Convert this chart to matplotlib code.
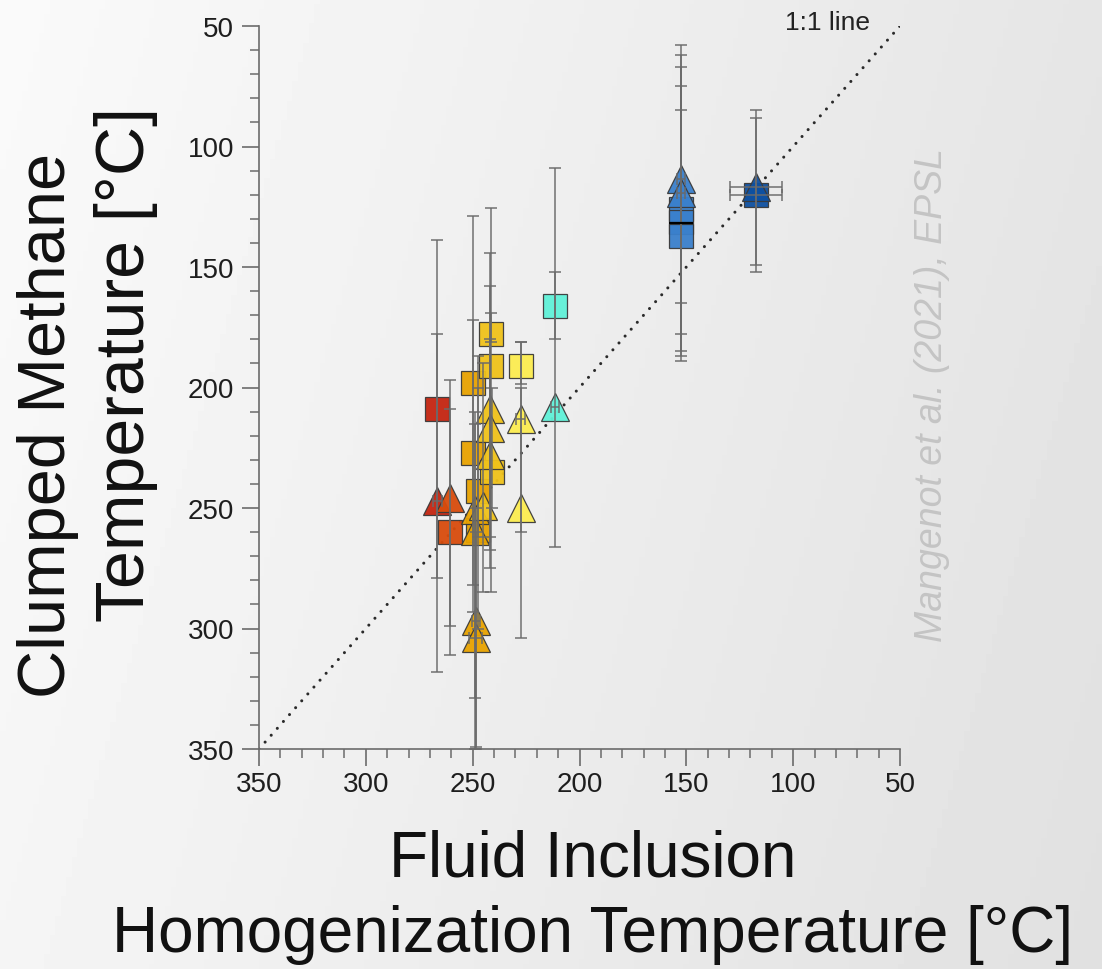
import numpy as np
import matplotlib
matplotlib.use('Agg')
import matplotlib.pyplot as plt
from matplotlib.ticker import MultipleLocator

plt.rcParams['font.family'] = ['Liberation Sans', 'DejaVu Sans']

# =============================================================================
# Data
# =============================================================================
c_red = '#c42410'
c_ored = '#d84c0c'
c_orange = '#e8a200'
c_gold = '#f0c21a'
c_lyel = '#fcec50'
c_cyan = '#60f2d8'
c_blue = '#3a80cc'
c_dblue = '#0e50a0'

# fluid inclusion Th, clumped T, lower / upper error bound, marker, colour, x err
fi_T = [266.5, 266.5, 260.5, 260.5, 250, 250, 247.5, 247.5, 249, 249, 248.5, 248.5,
        241.5, 241.5, 242, 242, 242, 241, 245, 227.5, 227.5, 227.5, 211.5, 211.5,
        152.5, 152.5, 152.5, 152.5, 152.5, 117.4, 117.4]
cm_T = [209, 247, 246, 260, 198, 227, 243, 259, 251, 259.5, 297, 304,
        178, 191, 209, 217, 228, 235, 249, 191, 213, 250, 166, 208,
        113.5, 119.5, 126, 131.5, 137, 117, 120]
cm_lo = [178, 139, 197, 209, 129, 172, 187, 200, 210, 215, 250, 260,
         169, 125.5, 144, 158, 180, 200, 190, 181, 181, 200, 152, 109,
         58, 62, 67, 75, 85, 85, 88]
cm_hi = [279, 318, 311, 299, 282, 293, 262, 300, 329, 350, 349, 350,
         181, 285, 262, 267.5, 275, 250, 285, 198.5, 260, 304, 180, 266,
         189, 187, 178, 185, 165, 149, 152]
mk = ['s', '^', '^', 's', 's', 's', 's', 's', '^', '^', '^', '^',
      's', 's', '^', '^', '^', 's', '^', 's', '^', '^', 's', '^',
      '^', '^', 's', 's', 's', '^', 's']
cols = [c_red, c_red, c_ored, c_ored, c_orange, c_orange, c_orange, c_orange,
        c_orange, c_orange, c_orange, c_orange, c_gold, c_gold, c_gold, c_gold,
        c_gold, c_gold, c_gold, c_lyel, c_lyel, c_lyel, c_cyan, c_cyan,
        c_blue, c_blue, c_blue, c_blue, c_blue, c_dblue, c_dblue]
fi_err = [0, 2, 0, 0, 0, 0, 0, 0, 0, 0, 2, 3,
          0, 0, 0, 0, 0, 0, 0, 0, 2, 0, 0, 2,
          2, 2, 0, 0, 0, 12, 12]

# =============================================================================
# Plot
# =============================================================================
fig = plt.figure(figsize=(11.02, 9.70), dpi=100)

# grey gradient background
bg = fig.add_axes([0, 0, 1, 1], zorder=-10)
gx, gy = np.meshgrid(np.linspace(0, 1, 200), np.linspace(0, 1, 200))
grad = 0.98 - 0.08*gx - 0.02*gy
bg.imshow(grad, cmap='gray', vmin=0, vmax=1, aspect='auto', extent=[0, 1, 0, 1])
bg.axis('off')

ax = fig.add_axes([259/1102, 1 - 750/970, (900 - 259)/1102, (750 - 27)/970])
ax.set_facecolor('none')

# 1:1 line
ax.plot([350, 50], [350, 50], color='#2a2a2a', lw=2.2, linestyle=(0, (0.01, 3.0)),
        dash_capstyle='round', zorder=1)
ax.text(104, 51.2, '1:1 line', fontsize=19, color='#222222', va='baseline', ha='left')

# markers (squares first, triangles on top)
for shape in ['s', '^']:
    for i in range(len(fi_T)):
        if mk[i] != shape:
            continue
        ms = 16.8 if shape == 's' else 19.5
        ax.plot(fi_T[i], cm_T[i], marker=shape, ms=ms, mfc=cols[i], mec='#3a3a3a',
                mew=0.9, alpha=0.95, ls='none', zorder=3)

# error bars on top
for i in range(len(fi_T)):
    ax.errorbar(fi_T[i], cm_T[i],
                yerr=[[cm_T[i] - cm_lo[i]], [cm_hi[i] - cm_T[i]]],
                xerr=fi_err[i] if fi_err[i] > 0 else None,
                fmt='none', ecolor='#6a6a6a', elinewidth=1.4, capsize=4.5,
                capthick=1.4, alpha=0.75, zorder=4)

# black median line in blue squares
ax.plot(152.5, 131.7, marker='_', ms=16.8, mew=1.6, color='black', zorder=5)

ax.set_xlim(350, 50)
ax.set_ylim(350, 50)
ax.xaxis.set_major_locator(MultipleLocator(50))
ax.xaxis.set_minor_locator(MultipleLocator(10))
ax.yaxis.set_major_locator(MultipleLocator(50))
ax.yaxis.set_minor_locator(MultipleLocator(10))
for s in ['top', 'right']:
    ax.spines[s].set_visible(False)
for s in ['left', 'bottom']:
    ax.spines[s].set_color('#6b6b6b')
    ax.spines[s].set_linewidth(1.2)
ax.tick_params(which='major', direction='out', length=12, width=1.2, color='#6b6b6b',
               labelsize=20, labelcolor='#1e1e1e')
ax.tick_params(which='minor', direction='out', length=6.5, width=1.1, color='#6b6b6b')
ax.tick_params(axis='y', which='major', pad=6)
ax.tick_params(axis='x', which='major', pad=4)

# axis labels
fig.text(48/1102, 1 - 425/970, 'Clumped Methane', rotation=90, fontsize=48,
         ha='center', va='center', color='#111111')
fig.text(126/1102, 1 - 365/970, 'Temperature [°C]', rotation=90, fontsize=49,
         ha='center', va='center', color='#111111')
fig.text(593/1102, 1 - 860/970, 'Fluid Inclusion', fontsize=46,
         ha='center', va='center', color='#111111')
fig.text(593/1102, 1 - 935/970, 'Homogenization Temperature [°C]', fontsize=46,
         ha='center', va='center', color='#111111')

# citation
fig.text(932/1102, 1 - 395/970, 'Mangenot et al. (2021), EPSL', rotation=90,
         fontsize=27, style='italic', color='#c4c4c4', ha='center', va='center')

fig.savefig('out.png', dpi=100)
